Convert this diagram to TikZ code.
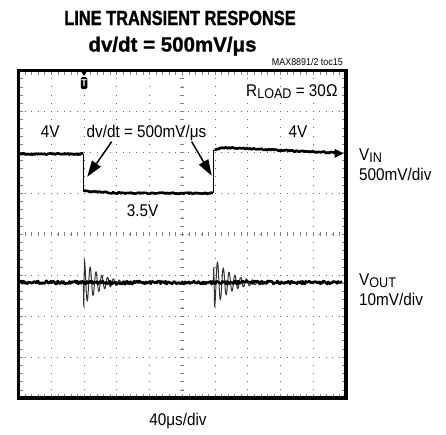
\documentclass[tikz,border=0pt]{standalone}
\usepackage{fontspec}
\setmainfont{Liberation Sans}[FakeStretch=0.9]
\newfontfamily\headfont{Liberation Sans}[FakeStretch=0.8,BoldFeatures={FakeBold=1.2}]
\newfontfamily\rateheadfont{Liberation Sans}[BoldFeatures={FakeBold=1.2}]
\usetikzlibrary{calc}
\newcommand{\lowsub}[1]{\raisebox{-0.15em}{\fontsize{14}{14}\selectfont #1}}

\begin{document}
\begin{tikzpicture}[x=1pt,y=-1pt,
    lbl/.style={font=\fontsize{17}{17}\selectfont,inner sep=0pt},
    gridline/.style={black!60,line width=0.9pt},
    tickline/.style={black!50,line width=0.6pt},
    trace/.style={line width=2.6pt,line join=round},
    edge/.style={line width=0.9pt},
    ring/.style={black!80,line width=1pt},
    pointer/.style={line width=1.5pt},
    trigbox/.style={fill=black,text=white,rounded corners=1.5pt,
    minimum width=6.5pt,minimum height=12pt,inner sep=0pt,
    font=\bfseries\fontsize{10}{10}\selectfont}]

    \useasboundingbox (0,0) rectangle (446,434);

    \foreach \k in {1,...,9} {
      \draw [gridline,dash pattern=on 0.9pt off 7.2875pt,dash phase=0.45pt]
      (18.5+\k*32.75,70.5) -- (18.5+\k*32.75,398);
    }
    \foreach \k in {1,...,7} {
      \draw [gridline,dash pattern=on 0.9pt off 5.65pt,dash phase=0.45pt]
      (18.5,70.5+\k*40.9375) -- (346,70.5+\k*40.9375);
    }

    \foreach \i in {1,...,49} {
      \draw [tickline] (18.5+\i*6.55,232.2) -- (18.5+\i*6.55,236.2);
      \draw [tickline] (18.5+\i*6.55,70.5) -- (18.5+\i*6.55,75);
      \draw [tickline] (18.5+\i*6.55,398) -- (18.5+\i*6.55,393.5);
    }
    \foreach \j in {1,...,39} {
      \draw [tickline] (180.2,70.5+\j*8.1875) -- (184.3,70.5+\j*8.1875);
      \draw [tickline] (18.5,70.5+\j*8.1875) -- (23,70.5+\j*8.1875);
      \draw [tickline] (346,70.5+\j*8.1875) -- (341.5,70.5+\j*8.1875);
    }

    \draw [line width=3.4pt] (18.5,70.5) rectangle (346,398);

    \fill (80.5,70.5) -- (87.5,70.5) -- (84,76) -- cycle;
    \node [trigbox] (trig) at (84,83) {T};

    \pgfmathsetseed{8891}
    \draw [trace] plot[domain=19.5:83.3,samples=60] (\x,{154+0.7*rand});
    \draw [edge] (83.3,154) -- (83.3,192);
    \draw [trace] plot[domain=84:213,samples=120]
    (\x,{193.3-2.8*exp(-(\x-84)/18)+0.7*rand});
    \draw [edge] (213.5,193) -- (213.5,150);
    \draw [trace] plot[domain=214.5:337,samples=110]
    (\x,{147.7+0.048*(\x-228)+ifthenelse(\x<228,0.015*(\x-228)*(\x-228),0)+0.7*rand});
    \fill (334.5,148.8) -- (343.5,153.4) -- (334.5,158) -- cycle;

    \draw [ring] (83.3,282.5) -- (83.8,307) -- (84.4,260.5)
    -- plot[domain=84.4:140,samples=240]
    (\x,{282.5-22*exp(-(\x-84.4)/16)*cos(62.07*(\x-84.4))});
    \draw [ring] (213.3,282.5) -- (213.8,267) -- (214.6,307)
    -- plot[domain=214.6:268,samples=240]
    (\x,{282.5+24*exp(-(\x-214.6)/17)*cos(62.07*(\x-214.6))});
    \draw [trace] plot[domain=19.5:342,samples=330] (\x,{282.5+1.6*rand});

    \node [font=\headfont\bfseries\fontsize{20.5}{21}\selectfont,inner sep=0pt,
    anchor=base] (title) at (180,25) {LINE TRANSIENT RESPONSE};
    \node [font=\rateheadfont\bfseries\fontsize{20.5}{21}\selectfont,inner sep=0pt,
    anchor=base] (subtitle) at (172.5,51.5) {dv/dt = 500mV/μs};
    \node [font=\fontsize{9.9}{10}\selectfont,inner sep=0pt,
    anchor=base east] (tocref) at (343,65) {MAX8891/2 toc15};

    \node [lbl,anchor=base west] (rload) at (246,96) {R\lowsub{LOAD} = 30Ω};
    \node [lbl,anchor=base] (vhigh) at (50.3,137.5) {4V};
    \node [lbl,anchor=base] (vhighr) at (298,137.5) {4V};
    \node [lbl,anchor=base] (slew) at (146.5,137.5) {dv/dt = 500mV/μs};
    \node [lbl,anchor=base] (vlow) at (142.5,216.7) {3.5V};

    \coordinate (slewl) at (111.7,141.7);
    \coordinate (slewr) at (191.7,141.7);
    \coordinate (fallfoot) at (87.3,176.7);
    \coordinate (risefoot) at (211.7,175.7);
    \coordinate (fallbase) at ($(fallfoot)!16pt!(slewl)$);
    \coordinate (risebase) at ($(risefoot)!16pt!(slewr)$);
    \draw [pointer] (slewl) -- (fallbase);
    \draw [pointer] (slewr) -- (risebase);
    \fill (fallfoot) -- ($(fallbase)!5.5pt!90:(fallfoot)$)
    -- ($(fallbase)!5.5pt!-90:(fallfoot)$) -- cycle;
    \fill (risefoot) -- ($(risebase)!5.5pt!90:(risefoot)$)
    -- ($(risebase)!5.5pt!-90:(risefoot)$) -- cycle;

    \node [lbl,anchor=base west] (vin) at (359,160) {V\lowsub{IN}};
    \node [lbl,anchor=base west] (vinscale) at (359,180) {500mV/div};
    \node [lbl,anchor=base west] (vout) at (359,285) {V\lowsub{OUT}};
    \node [lbl,anchor=base west] (voutscale) at (359,305) {10mV/div};
    \node [lbl,anchor=base] (timescale) at (178,425) {40μs/div};

  \end{tikzpicture}
\end{document}
